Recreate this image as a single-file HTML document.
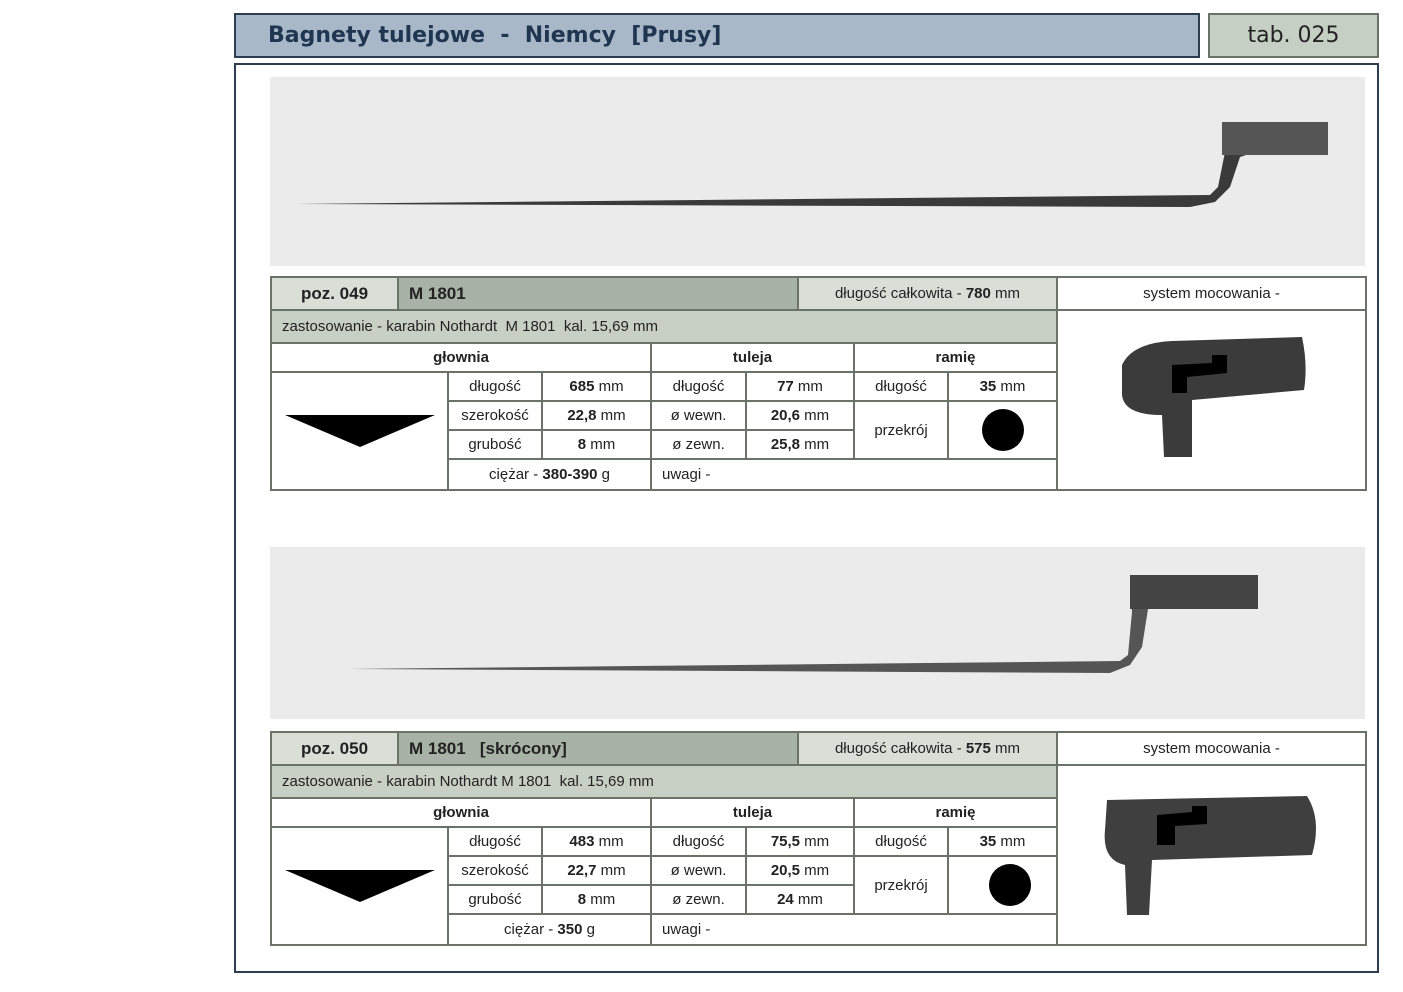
<!DOCTYPE html>
<html><head><meta charset="utf-8"><style>
body{margin:0;width:1403px;height:992px;background:#fff;position:relative;overflow:hidden;font-family:"Liberation Sans","DejaVu Sans",sans-serif;}
.a{position:absolute;box-sizing:border-box;}
.hdr{left:234px;top:13px;width:966px;height:45px;background:#a9b8c8;border:2px solid #2c3e50;color:#1f3550;font-weight:bold;font-size:22px;line-height:41px;padding-left:32px;font-family:"DejaVu Sans",sans-serif;}
.tab{left:1208px;top:13px;width:171px;height:45px;background:#c6cfc4;border:2px solid #6b7267;font-size:22px;line-height:41px;text-align:center;color:#222;font-family:"DejaVu Sans",sans-serif;}
.frame{left:234px;top:63px;width:1145px;height:910px;border:2px solid #2c3e50;}
.t{position:absolute;left:270px;width:1097px;height:215px;}
.c{position:absolute;box-sizing:border-box;border:2px solid #6b7267;background:#fff;font-size:15px;color:#222;text-align:center;display:flex;align-items:center;justify-content:center;white-space:nowrap;}
.l{justify-content:flex-start;padding-left:10px;}
.b{font-weight:bold;}
.g1{background:#d9dfd6;}.g2{background:#a9b2a6;}.g3{background:#c8cfc4;}
.photo{position:absolute;left:270px;width:1095px;background:#ebebeb;}
</style></head><body>
<div class="a hdr">Bagnety tulejowe&nbsp; - &nbsp;Niemcy&nbsp; [Prusy]</div>
<div class="a tab">tab. 025</div>
<div class="a frame"></div>

<div class="photo" style="top:77px;height:189px;">
<svg width="1095" height="189"><polygon points="26,127 940,118 948,110 955,75 952,45 1058,48 1058,78 985,75 970,80 960,110 945,125 920,130" fill="#3a3a3a"/><rect x="952" y="45" width="106" height="33" fill="#555"/></svg>
</div>
<div class="photo" style="top:547px;height:172px;">
<svg width="1095" height="172"><polygon points="80,122 850,114 858,108 862,65 860,30 988,32 988,62 878,62 872,100 860,118 840,126" fill="#555"/><rect x="860" y="28" width="128" height="34" fill="#444"/></svg>
</div>

<!-- table 1 -->
<div class="t" style="top:276px;">
<div class="c g1 b" style="left:0;top:0;width:129px;height:35px;font-size:17px;">poz. 049</div>
<div class="c g2 b l" style="left:127px;top:0;width:402px;height:35px;font-size:17px;">M 1801</div>
<div class="c g1" style="left:527px;top:0;width:261px;height:35px;">długość całkowita -&nbsp; <b>780</b>&nbsp;mm</div>
<div class="c" style="left:786px;top:0;width:311px;height:35px;">system mocowania -</div>
<div class="c g3 l" style="left:0;top:33px;width:788px;height:35px;">zastosowanie - karabin Nothardt&nbsp; M 1801&nbsp; kal. 15,69 mm</div>
<div class="c" style="left:786px;top:33px;width:311px;height:182px;"><svg width="200" height="130" viewBox="0 0 200 130"><path d="M10,30 Q20,8 60,6 L190,2 Q196,30 192,55 L80,65 L80,122 L52,122 L50,80 Q12,80 10,60 Z" fill="#3b3b3b"/><path d="M60,30 L100,28 L100,20 L115,20 L115,38 L75,42 L75,58 L60,58 Z" fill="#000"/></svg></div>
<div class="c b" style="left:0;top:66px;width:382px;height:31px;">głownia</div>
<div class="c b" style="left:380px;top:66px;width:205px;height:31px;">tuleja</div>
<div class="c b" style="left:583px;top:66px;width:205px;height:31px;">ramię</div>
<div class="c" style="left:0;top:95px;width:179px;height:120px;"><svg width="150" height="40"><polygon points="0,4 150,4 75,36" fill="#000"/></svg></div>
<div class="c" style="left:177px;top:95px;width:96px;height:31px;">długość</div>
<div class="c" style="left:271px;top:95px;width:111px;height:31px;"><b>685</b>&nbsp;mm</div>
<div class="c" style="left:380px;top:95px;width:97px;height:31px;">długość</div>
<div class="c" style="left:475px;top:95px;width:110px;height:31px;"><b>77</b>&nbsp;mm</div>
<div class="c" style="left:583px;top:95px;width:96px;height:31px;">długość</div>
<div class="c" style="left:677px;top:95px;width:111px;height:31px;"><b>35</b>&nbsp;mm</div>
<div class="c" style="left:177px;top:124px;width:96px;height:31px;">szerokość</div>
<div class="c" style="left:271px;top:124px;width:111px;height:31px;"><b>22,8</b>&nbsp;mm</div>
<div class="c" style="left:380px;top:124px;width:97px;height:31px;">ø wewn.</div>
<div class="c" style="left:475px;top:124px;width:110px;height:31px;"><b>20,6</b>&nbsp;mm</div>
<div class="c" style="left:583px;top:124px;width:96px;height:60px;">przekrój</div>
<div class="c" style="left:677px;top:124px;width:111px;height:60px;"><div style="width:42px;height:42px;border-radius:50%;background:#000"></div></div>
<div class="c" style="left:177px;top:153px;width:96px;height:31px;">grubość</div>
<div class="c" style="left:271px;top:153px;width:111px;height:31px;"><b>8</b>&nbsp;mm</div>
<div class="c" style="left:380px;top:153px;width:97px;height:31px;">ø zewn.</div>
<div class="c" style="left:475px;top:153px;width:110px;height:31px;"><b>25,8</b>&nbsp;mm</div>
<div class="c" style="left:177px;top:182px;width:205px;height:33px;">ciężar - <b>&nbsp;380-390</b>&nbsp;g</div>
<div class="c l" style="left:380px;top:182px;width:408px;height:33px;">uwagi -</div>
</div>

<!-- table 2 -->
<div class="t" style="top:731px;">
<div class="c g1 b" style="left:0;top:0;width:129px;height:35px;font-size:17px;">poz. 050</div>
<div class="c g2 b l" style="left:127px;top:0;width:402px;height:35px;font-size:17px;">M 1801&nbsp;&nbsp; [skrócony]</div>
<div class="c g1" style="left:527px;top:0;width:261px;height:35px;">długość całkowita -&nbsp; <b>575</b>&nbsp;mm</div>
<div class="c" style="left:786px;top:0;width:311px;height:35px;">system mocowania -</div>
<div class="c g3 l" style="left:0;top:33px;width:788px;height:35px;">zastosowanie - karabin Nothardt M 1801&nbsp; kal. 15,69 mm</div>
<div class="c" style="left:786px;top:33px;width:311px;height:182px;"><svg width="230" height="130" viewBox="0 0 230 130"><path d="M10,10 L210,6 Q225,30 215,65 L55,70 L52,125 L30,125 L28,75 Q5,70 8,40 Z" fill="#3f3f3f"/><path d="M60,25 L95,22 L95,16 L110,16 L110,34 L78,36 L78,55 L60,55 Z" fill="#000"/></svg></div>
<div class="c b" style="left:0;top:66px;width:382px;height:31px;">głownia</div>
<div class="c b" style="left:380px;top:66px;width:205px;height:31px;">tuleja</div>
<div class="c b" style="left:583px;top:66px;width:205px;height:31px;">ramię</div>
<div class="c" style="left:0;top:95px;width:179px;height:120px;"><svg width="150" height="40"><polygon points="0,4 150,4 75,36" fill="#000"/></svg></div>
<div class="c" style="left:177px;top:95px;width:96px;height:31px;">długość</div>
<div class="c" style="left:271px;top:95px;width:111px;height:31px;"><b>483</b>&nbsp;mm</div>
<div class="c" style="left:380px;top:95px;width:97px;height:31px;">długość</div>
<div class="c" style="left:475px;top:95px;width:110px;height:31px;"><b>75,5</b>&nbsp;mm</div>
<div class="c" style="left:583px;top:95px;width:96px;height:31px;">długość</div>
<div class="c" style="left:677px;top:95px;width:111px;height:31px;"><b>35</b>&nbsp;mm</div>
<div class="c" style="left:177px;top:124px;width:96px;height:31px;">szerokość</div>
<div class="c" style="left:271px;top:124px;width:111px;height:31px;"><b>22,7</b>&nbsp;mm</div>
<div class="c" style="left:380px;top:124px;width:97px;height:31px;">ø wewn.</div>
<div class="c" style="left:475px;top:124px;width:110px;height:31px;"><b>20,5</b>&nbsp;mm</div>
<div class="c" style="left:583px;top:124px;width:96px;height:60px;">przekrój</div>
<div class="c" style="left:677px;top:124px;width:111px;height:60px;"><div style="width:42px;height:42px;border-radius:50%;background:#000;margin-left:14px"></div></div>
<div class="c" style="left:177px;top:153px;width:96px;height:31px;">grubość</div>
<div class="c" style="left:271px;top:153px;width:111px;height:31px;"><b>8</b>&nbsp;mm</div>
<div class="c" style="left:380px;top:153px;width:97px;height:31px;">ø zewn.</div>
<div class="c" style="left:475px;top:153px;width:110px;height:31px;"><b>24</b>&nbsp;mm</div>
<div class="c" style="left:177px;top:182px;width:205px;height:33px;">ciężar - <b>&nbsp;350</b>&nbsp;g</div>
<div class="c l" style="left:380px;top:182px;width:408px;height:33px;">uwagi -</div>
</div>
</body></html>
